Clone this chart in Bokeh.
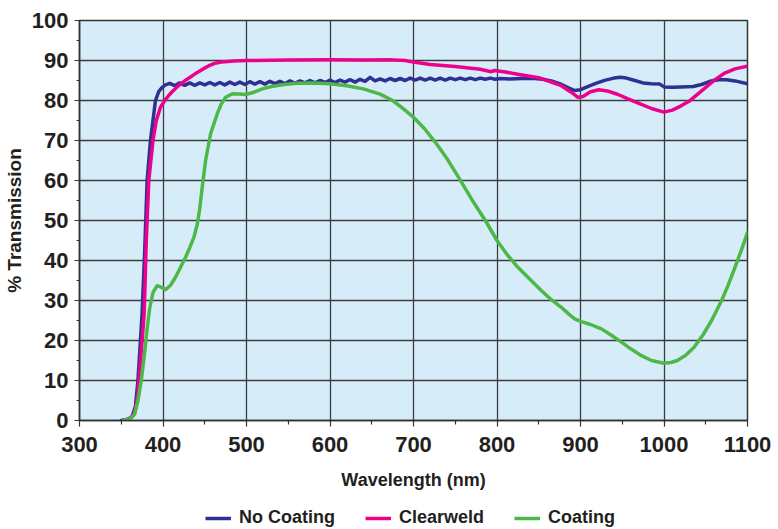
from bokeh.plotting import figure
from bokeh.layouts import column
from bokeh.models import Legend, LegendItem, FixedTicker
from bokeh.embed import file_html
from bokeh.resources import INLINE

# ---- data ----
no_coating_nm = [350, 358, 363, 367, 370, 373, 375, 378, 381, 385, 388, 391, 395, 399, 403,
                 408, 414, 420, 426, 432, 438, 444, 450, 456, 462, 468, 474, 480, 486, 492, 498,
                 504, 510, 516, 522, 528, 534, 540, 546, 552, 558, 564, 570, 576, 582, 588, 594,
                 600, 606, 612, 618, 624, 630, 636, 642, 648, 654, 660, 666, 672, 678, 684, 690,
                 696, 702, 708, 714, 720, 726, 732, 738, 744, 750, 756, 762, 768, 774, 780, 786,
                 792, 798, 804, 815, 830, 845, 855, 865, 875, 885, 893, 900, 910, 920, 930, 940,
                 948, 955, 965, 975, 985, 995, 1000, 1010, 1020, 1035, 1045, 1055, 1065, 1075,
                 1085, 1100]
no_coating_pct = [0, 0.3, 1, 3.5, 10, 20, 27, 42, 60, 70, 75, 80, 82.3, 83.3, 83.9,
                  84.3, 83.7, 84.4, 83.8, 84.4, 83.8, 84.4, 83.9, 84.5, 83.9, 84.5, 83.9, 84.6, 84.0, 84.6, 84.0,
                  84.7, 84.1, 84.7, 84.1, 84.8, 84.2, 84.8, 84.2, 84.9, 84.3, 84.9, 84.4, 85.0, 84.4, 85.0, 84.5,
                  85.1, 84.5, 85.1, 84.6, 85.2, 84.6, 85.3, 84.8, 85.8, 84.9, 85.4, 84.9, 85.5, 85.0, 85.5, 85.0,
                  85.6, 85.1, 85.6, 85.1, 85.6, 85.1, 85.6, 85.1, 85.6, 85.2, 85.6, 85.2, 85.6, 85.2, 85.6, 85.3,
                  85.6, 85.3, 85.5, 85.4, 85.5, 85.5, 85.3, 84.9, 84.2, 83.2, 82.5, 82.7, 83.6, 84.4, 85.1, 85.6,
                  85.8, 85.6, 85.0, 84.4, 84.2, 84.1, 83.4, 83.3, 83.4, 83.5, 84.0, 84.8, 85.2, 85.2,
                  84.9, 84.2]

clearweld_nm = [352, 360, 365, 369, 372, 375, 377.5, 380, 383, 386, 388, 392, 397, 403, 410,
                418, 428, 438, 448, 455, 462, 470, 485, 500, 550, 600, 640, 670, 690, 700,
                720, 750, 780, 793, 797, 810, 830, 850, 865, 877, 888, 897, 903, 912, 922,
                932, 945, 957, 970, 985, 1000, 1010, 1020, 1030, 1045, 1060, 1072, 1085, 1100]
clearweld_pct = [0, 0.4, 1.5, 5, 12, 20, 27, 45, 60, 66, 70, 75, 78.3, 80.3, 82,
                 83.6, 85.2, 86.6, 87.9, 88.7, 89.3, 89.6, 89.9, 90.0, 90.1, 90.2, 90.1, 90.2, 90.0, 89.6,
                 89.0, 88.5, 87.8, 87.2, 87.5, 87.1, 86.4, 85.7, 84.6, 83.7, 82.2, 80.8, 81.0, 82.2, 82.7,
                 82.4, 81.5, 80.4, 79.3, 78.0, 77.1, 77.6, 78.6, 79.8, 82.4, 85.0, 86.8, 87.9, 88.6]

coating_nm = [352, 360, 366, 370, 374, 378, 381, 384, 388, 393, 398, 403, 409, 415, 421,
              427, 432, 437, 441, 444, 447, 451, 457, 465, 470, 475, 483, 492, 499, 508,
              519, 530, 545, 560, 580, 600, 620, 640, 660, 675, 688, 700, 713, 726, 740,
              754, 770, 786, 800, 812, 825, 840, 853, 865, 877, 886, 893, 900, 912, 925,
              937, 949, 961, 973, 985, 1000, 1008, 1016, 1026, 1036, 1047, 1057, 1069, 1077,
              1085, 1093, 1100]
coating_pct = [0, 0.4, 1.5, 5, 10, 17, 23, 28, 32, 33.7, 33.3, 32.7, 33.8, 35.8, 38.3,
               40.8, 43.2, 45.8, 49, 53, 58.3, 65, 71.7, 76.7, 79.2, 80.8, 81.7, 81.6, 81.5, 82.0,
               82.9, 83.5, 84.0, 84.3, 84.4, 84.2, 83.7, 82.9, 81.6, 80.0, 77.9, 75.8, 73.0, 69.6, 65.5,
               60.8, 55.2, 50.0, 45.0, 41.5, 38.3, 35.2, 32.5, 30.2, 28.3, 26.6, 25.4, 24.8, 24.0, 22.9,
               21.3, 19.6, 17.8, 16.2, 15.0, 14.3, 14.5, 15.0, 16.3, 18.3, 21.5, 25.0, 30.0, 33.9,
               38.3, 42.8, 47.0]

series_names = ["No Coating", "Clearweld", "Coating"]
series_colors = ["#2E3192", "#EC008C", "#4DB848"]
series = [(no_coating_nm, no_coating_pct), (clearweld_nm, clearweld_pct), (coating_nm, coating_pct)]
x_ticks = [300, 400, 500, 600, 700, 800, 900, 1000, 1100]
y_ticks = [0, 10, 20, 30, 40, 50, 60, 70, 80, 90, 100]

FONT = "Liberation Sans"
TXT = "#231F20"

p = figure(frame_width=668, frame_height=400, x_range=(300, 1100), y_range=(0, 100),
           output_backend="svg", toolbar_location=None,
           min_border_left=78, min_border_right=32, min_border_top=20, min_border_bottom=73)

p.background_fill_color = "#D6EDF9"
p.border_fill_color = "white"
p.outline_line_color = "#333333"
p.outline_line_width = 1.5

for ax in (p.xaxis[0], p.yaxis[0]):
    ax.axis_line_color = "#333333"
    ax.axis_line_width = 1.5
    ax.major_tick_line_color = "#333333"
    ax.minor_tick_line_color = "#333333"
    ax.major_tick_line_width = 1.2
    ax.minor_tick_line_width = 1.2
    ax.major_tick_in = 0
    ax.minor_tick_in = 0
    ax.major_label_text_font = FONT
    ax.major_label_text_font_style = "bold"
    ax.major_label_text_font_size = "22px"
    ax.major_label_text_color = TXT
    ax.axis_label_text_font = FONT
    ax.axis_label_text_font_style = "bold"
    ax.axis_label_text_color = TXT

p.xaxis.ticker = FixedTicker(ticks=x_ticks, minor_ticks=[350, 450, 550, 650, 750, 850, 950, 1050])
p.yaxis.ticker = FixedTicker(ticks=y_ticks, minor_ticks=[5, 15, 25, 35, 45, 55, 65, 75, 85, 95])
p.xaxis.major_tick_out = 6
p.xaxis.minor_tick_out = 4
p.yaxis.major_tick_out = 5
p.yaxis.minor_tick_out = 3
p.xaxis.major_label_standoff = 10
p.yaxis.major_label_standoff = 6

p.xaxis.axis_label = "Wavelength (nm)"
p.xaxis.axis_label_text_font_size = "18px"
p.xaxis.axis_label_standoff = 15
p.yaxis.axis_label = "% Transmission"
p.yaxis.axis_label_text_font_size = "19px"
p.yaxis.axis_label_standoff = 4

p.grid.grid_line_color = "#3C3C3C"
p.grid.grid_line_width = 1.3
p.xgrid.ticker = FixedTicker(ticks=x_ticks)
p.ygrid.ticker = FixedTicker(ticks=y_ticks)

for (xs, ys), c in zip(series, series_colors):
    p.line(xs, ys, line_color=c, line_width=3.5, line_join="round", line_cap="round")

# legend strip below the chart (its lines lie outside its own visible range)
lg = figure(width=778, height=36, output_backend="svg", toolbar_location=None,
            x_axis_type=None, y_axis_type=None, x_range=(0, 1), y_range=(0, 1),
            min_border=0, outline_line_color=None)
lg.grid.visible = False
lg.background_fill_color = "white"
lg_renderers = [lg.line(xs, ys, line_color=c, line_width=3.5)
                for (xs, ys), c in zip(series, series_colors)]
legend = Legend(items=[LegendItem(label=n, renderers=[r]) for n, r in zip(series_names, lg_renderers)],
                orientation="horizontal", location=(126, 1))
legend.label_text_font = FONT
legend.label_text_font_style = "bold"
legend.label_text_font_size = "18px"
legend.label_text_color = TXT
legend.glyph_width = 26
legend.glyph_height = 20
legend.label_standoff = 8
legend.spacing = 30
legend.border_line_color = None
legend.background_fill_alpha = 0
legend.margin = 0
legend.padding = 0
lg.add_layout(legend, "center")

open("out.html", "w").write(file_html(column(p, lg, spacing=0), INLINE))
